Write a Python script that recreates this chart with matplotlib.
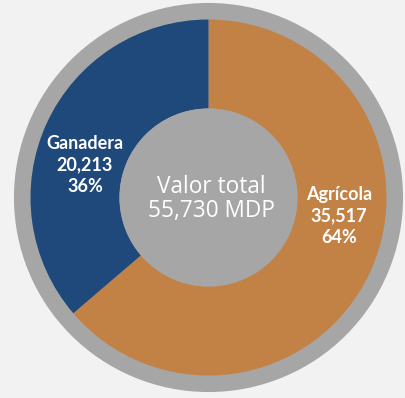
import matplotlib.pyplot as plt
from matplotlib.patches import Circle

# data
categories = ['Agrícola', 'Ganadera']
values = [35517, 20213]
shares = [64, 36]
colors = ['#c28145', '#1f497b']
total_label = 'Valor total\n55,730 MDP'

plt.rcParams['font.family'] = ['Lato', 'DejaVu Sans']

fig = plt.figure(figsize=(4.06, 3.98), dpi=100)
fig.patch.set_facecolor('#f2f2f2')
ax = fig.add_axes([0, 0, 1, 1])
ax.set_facecolor('#f2f2f2')

# outer gray ring
ax.add_patch(Circle((0, 0), 1.093, facecolor='#a6a6a6', edgecolor='none', zorder=0))

wedges, _ = ax.pie(values, colors=colors, startangle=90, counterclock=False,
                   radius=1.0, wedgeprops=dict(width=0.5, edgecolor='none'))
for w in wedges:
    w.set_zorder(1)

# center disc
ax.add_patch(Circle((0, 0), 0.5, facecolor='#a6a6a6', edgecolor='none', zorder=2))

ax.text(0.014, -0.01, total_label, ha='center', va='center', color='white',
        fontsize=16.3, family=['Open Sans', 'DejaVu Sans'], linespacing=1.0, zorder=3)

label_pos = [(0.733, -0.104), (-0.694, 0.183)]
for cat, v, s, (x, y) in zip(categories, values, shares, label_pos):
    ax.text(x, y, '%s\n%s\n%d%%' % (cat, format(v, ','), s), ha='center', va='center',
            color='white', fontsize=13, fontweight='bold', linespacing=1.3, zorder=3)

ax.set_aspect('equal')
ax.set_xlim(-1.1713, 1.1096)
ax.set_ylim(-1.1264, 1.1096)
ax.axis('off')

fig.savefig('out.png', dpi=100, facecolor=fig.get_facecolor())
